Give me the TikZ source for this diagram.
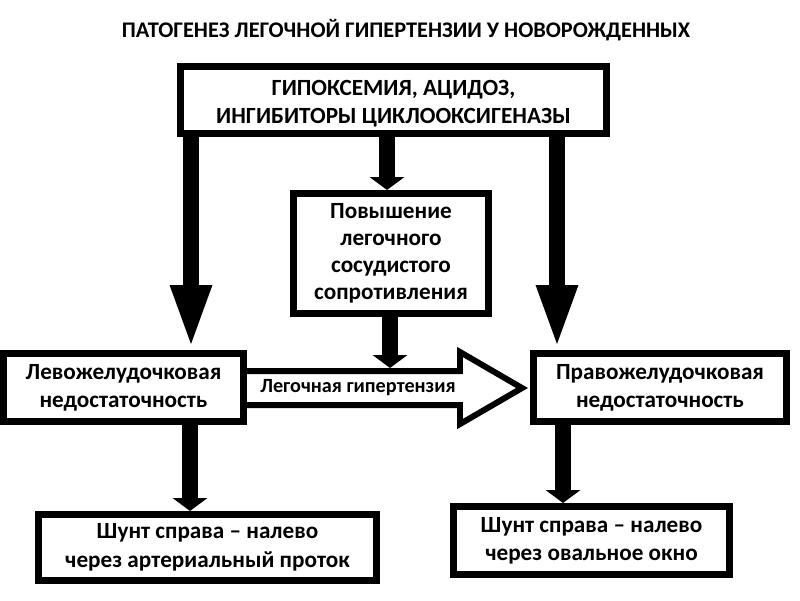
\documentclass[tikz,border=0pt]{standalone}
\usepackage{fontspec}
\setmainfont{Carlito}
\usetikzlibrary{arrows.meta}

\tikzset{
  blok/.style={draw, line width=4pt, align=center, inner sep=0pt,
    font=\bfseries\fontsize{13.2}{16}\selectfont},
  dlinnaya/.style={line width=9.6pt, -{Triangle[length=37pt,width=21pt]}},
  korotkaya/.style={line width=9.6pt, -{Triangle[length=7.4pt,width=19.5pt]}},
}

\begin{document}
\begin{tikzpicture}[x=0.02cm, y=-0.02cm]
    \useasboundingbox (0,0) rectangle (800,600);

    \node[font=\bfseries\fontsize{12.7}{15}\selectfont] (zagolovok) at (406,30)
      {ПАТОГЕНЕЗ ЛЕГОЧНОЙ ГИПЕРТЕНЗИИ У НОВОРОЖДЕННЫХ};

    % boxes
    \node[blok, minimum width=8.52cm, minimum height=1.34cm] (verkh) at (393.5,100)
      {\rule{0pt}{12.5pt}ГИПОКСЕМИЯ, АЦИДОЗ,\\ИНГИБИТОРЫ ЦИКЛООКСИГЕНАЗЫ};
    \node[blok, minimum width=3.9cm, minimum height=2.4cm,
      font=\bfseries\fontsize{13.2}{15.4}\selectfont] (sredn) at (391,253.5)
      {Повышение\\легочного\\сосудистого\\сопротивления};
    \node[blok, minimum width=4.8cm, minimum height=1.36cm] (levo) at (123.5,387.5)
      {Левожелудочковая\\недостаточность};
    \node[blok, minimum width=5.06cm, minimum height=1.36cm] (pravo) at (660,387.5)
      {Правожелудочковая\\недостаточность};
    \node[blok, minimum width=6.76cm, minimum height=1.32cm,
      font=\bfseries\fontsize{13.2}{16.6}\selectfont] (shuntL) at (207.5,547.5)
      {Шунт справа -- налево\\через артериальный проток};
    \node[blok, minimum width=5.52cm, minimum height=1.36cm,
      font=\bfseries\fontsize{13.2}{15.8}\selectfont] (shuntR) at (591.5,540.5)
      {Шунт справа -- налево\\через овальное окно};

    % hollow arrow
    \draw[line width=3.4pt, line join=miter]
      ([yshift=0.33cm]levo.east) -- (460,371) -- (460,352) -- (522,388)
      -- (460,424) -- (460,405) -- ([yshift=-0.35cm]levo.east);
    \node[font=\bfseries\fontsize{11.5}{13}\selectfont] (lg) at (358,388)
      {Легочная гипертензия};
    \coordinate (gverkh) at (0,368);

    % arrows
    \coordinate (x1) at (191,0);
    \coordinate (x2) at (387,0);
    \coordinate (x3) at (557,0);
    \coordinate (x4) at (390,0);
    \coordinate (x5) at (190,0);
    \coordinate (x6) at (563,0);
    \draw[dlinnaya] (verkh.south -| x1) -- (levo.north -| x1);
    \draw[korotkaya] (verkh.south -| x2) -- (sredn.north -| x2);
    \draw[dlinnaya] (verkh.south -| x3) -- (pravo.north -| x3);
    \draw[korotkaya] (sredn.south -| x4) -- (gverkh -| x4);
    \draw[korotkaya] (levo.south -| x5) -- (shuntL.north -| x5);
    \draw[korotkaya] (pravo.south -| x6) -- (shuntR.north -| x6);

\end{tikzpicture}
\end{document}
